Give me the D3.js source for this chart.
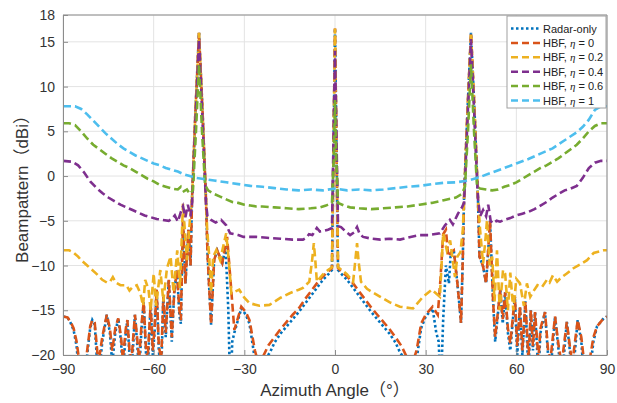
<!DOCTYPE html>
<html>
<head>
<meta charset="utf-8">
<script src="https://cdn.jsdelivr.net/npm/d3@7"></script>
<style>
body { margin: 0; background: #fff; }
text { font-family: "Liberation Sans", Arial, "Noto Sans CJK SC", sans-serif; }
</style>
</head>
<body>
<svg id="chart" width="617" height="403"></svg>
<script>
// ---- data: [azimuth deg, beampattern dBi] ----
const radarOnly = [
  [-90,-15.7],[-88.5,-15.8],[-87.5,-16.4],[-86.5,-17.2],[-85.5,-19],[-84.5,-23],[-83,-24],[-82,-20],[-81,-17],[-80.3,-16.1],
  [-79.5,-16.6],[-78.3,-23],[-77,-18.5],[-75.5,-15.5],[-74.5,-17.5],[-73.7,-21],[-72.7,-17.5],[-71.7,-15.9],[-70.8,-18.5],[-70.2,-22],
  [-69.2,-17.5],[-68.7,-16.1],[-68,-20],[-67.3,-22],[-66.2,-15.5],[-65.5,-18.5],[-64.8,-22],[-64,-17],[-63.3,-14.1],[-62.6,-19.5],
  [-62,-22],[-61,-14.3],[-60.3,-20],[-59.7,-17.5],[-59,-12.7],[-58.3,-19.5],[-57.5,-22],[-56.8,-13.5],[-56,-18],[-55,-11.6],
  [-54,-18.5],[-53.2,-13],[-52.3,-10.5],[-51.5,-15.5],[-51,-16.5],[-50.3,-5],[-49.5,-12],[-48.5,-6],[-47.8,-10],[-47.3,-2.5],
  [-46.2,7],[-45,16],[-43.8,7],[-42.7,-2.5],[-42.2,-8.5],[-41.7,-12],[-41,-16.6],[-40,-9.4],[-39,-8.3],[-37.3,-9.7],
  [-36.2,-8],[-35.3,-15],[-34.6,-25],[-34,-18.5],[-33.3,-17.5],[-31,-14.8],[-29.5,-15.5],[-28.3,-16.5],[-26.5,-20.5],[-25,-23],
  [-23.5,-21],[-22.5,-20.2],[-21.5,-19.7],[-20,-18.6],[-18,-17.6],[-16,-16.8],[-14,-16],[-12,-15.2],[-10,-14.3],[-8,-13.4],
  [-6,-12.5],[-4,-11.6],[-2,-10.9],[-1,-10.5],[-0.5,3],[0,16.5],[0.5,3],[1,-10.5],[2,-10.9],[4,-11.6],
  [6,-12.5],[8,-13.4],[10,-14.3],[12,-15.2],[14,-16],[16,-16.8],[18,-17.6],[20,-18.6],[21.5,-19.7],[22.5,-20.2],
  [24,-22],[25.5,-23],[27,-20.5],[28.5,-17],[30,-15.7],[32.3,-14.8],[33.5,-17.5],[34.3,-18.5],[35,-24],[35.8,-16],
  [36.7,-10],[37.7,-12],[38.3,-8.6],[39.3,-8.3],[40.5,-12],[41.7,-16.4],[42.3,-9],[42.7,-2.5],[43.8,7],[45,16],
  [46.2,7],[47.3,-2.5],[47.8,-9],[49,-10.1],[50,-12],[51.3,-5],[52.3,-13.9],[53,-18.5],[54.7,-12.7],[55.5,-16.5],
  [56.3,-13],[57.2,-17.5],[58,-19.5],[59.5,-13.5],[60.3,-20],[61.2,-14.6],[62,-20],[63,-14],[64,-22],[64.8,-15],
  [65.5,-19.5],[66.2,-15.2],[67.3,-22],[68,-17.5],[69.5,-15.2],[70.5,-20],[71.3,-22],[72.8,-15.7],[74,-19.5],[75,-23],
  [76.7,-16.3],[77.7,-19.5],[78.5,-23],[80.3,-16.1],[81.5,-18.5],[82.5,-23],[84.3,-22],[85.5,-18.5],[86.7,-16.8],[88.9,-15.9],
  [90,-15.7]
];

const hbfEta0 = [
  [-90,-15.7],[-88.5,-15.8],[-87.5,-16.3],[-86.5,-17],[-85.5,-18.5],[-84.5,-21],[-83,-22],[-82,-19.5],[-81,-16.8],[-80.3,-16.1],
  [-79.5,-16.4],[-78.3,-21],[-77,-18],[-75.5,-15.5],[-74.5,-17],[-73.7,-19.5],[-72.7,-17],[-71.7,-15.9],[-70.8,-18],[-70.2,-20.5],
  [-69.2,-17],[-68.7,-16.1],[-68,-19.5],[-67.3,-20.5],[-66.2,-15.5],[-65.5,-18],[-64.8,-20.5],[-64,-16.5],[-63.3,-14.1],[-62.6,-19],
  [-62,-20.5],[-61,-14.3],[-60.3,-19.5],[-59.7,-17],[-59,-12.7],[-58.3,-19],[-57.5,-20.5],[-56.8,-13.5],[-56,-17.5],[-55,-11.6],
  [-54,-18],[-53.2,-13],[-52.3,-10.5],[-51.5,-15],[-51,-16.1],[-50.3,-5],[-49.5,-12],[-48.5,-6],[-47.8,-10],[-47.3,-2.5],
  [-46.2,7],[-45,16],[-43.8,7],[-42.7,-2.5],[-42.2,-8.5],[-41.7,-12],[-41,-16.6],[-40,-9.4],[-39,-8.3],[-37.3,-9.7],
  [-35.7,-6.8],[-34.5,-12],[-33.3,-17.2],[-31,-14.6],[-29.5,-15.2],[-28.3,-16.1],[-26.5,-19.5],[-25.3,-21],[-24,-20.3],[-22,-18.9],
  [-20,-18],[-18,-17.1],[-16,-16.3],[-14,-15.5],[-12,-14.8],[-10,-13.8],[-8,-12.9],[-6,-12],[-4,-11.2],[-2,-10.6],
  [-1,-10.3],[-0.5,3],[0,16.5],[0.5,3],[1,-10.3],[2,-10.6],[4,-11.2],[6,-12],[8,-12.9],[10,-13.8],
  [12,-14.7],[14,-15.5],[16,-16.3],[18,-17.1],[20,-18],[22,-19],[24,-20.4],[25.5,-21],[27,-19.5],[28.5,-16.5],
  [30,-15.5],[32.3,-14.6],[34,-15.5],[34.8,-12],[35.8,-6.5],[36.7,-6],[37.5,-9],[38.3,-8.6],[39.3,-8.3],[40.5,-12],
  [41.7,-16.4],[42.3,-9],[42.7,-2.5],[43.8,7],[45,16],[46.2,7],[47.3,-2.5],[47.8,-9],[49,-10.1],[50,-12],
  [51.3,-5],[52.3,-13.9],[53,-18],[54.7,-12.7],[55.5,-16],[56.3,-13],[57.2,-17],[58,-18.7],[59.5,-13.5],[60.3,-19],
  [61.2,-14.6],[62,-19.5],[63,-14],[64,-20.5],[64.8,-15],[65.5,-19],[66.2,-15.2],[67.3,-20.5],[68,-17],[69.5,-15.2],
  [70.5,-19.5],[71.3,-20.5],[72.8,-15.7],[74,-19],[75,-21],[76.7,-16.3],[77.7,-19],[78.5,-21],[80.3,-16.1],[81.5,-18],
  [82.5,-21],[84.3,-20.5],[85.5,-18],[86.7,-16.8],[88.9,-15.9],[90,-15.7]
];

const hbfEta02 = [
  [-90,-8.3],[-88,-8.3],[-86.7,-8.5],[-85,-9],[-84,-9.4],[-82,-10],[-81,-10.3],[-79,-10.9],[-77,-11.6],[-75.5,-11.9],
  [-74.4,-11.8],[-73.5,-11.3],[-72.5,-11.9],[-71,-12.2],[-69,-12.2],[-68,-12.8],[-67,-12.4],[-65.6,-12.2],[-64.4,-13.1],[-63.5,-14.5],
  [-62.8,-11.6],[-61.7,-12.7],[-61,-15],[-60,-10.9],[-59.2,-14.5],[-57.8,-10.5],[-56.8,-14],[-55.6,-10.3],[-54.4,-9],[-53.4,-13],
  [-52.2,-8.3],[-51.3,-12.5],[-50.3,-3.1],[-49,-9.4],[-48,-4.9],[-47.3,-2.5],[-46.2,7],[-45,16],[-43.8,7],[-42.7,-2.5],
  [-42.3,-6],[-41.7,-8.6],[-41,-13],[-40.3,-9],[-39.3,-8.3],[-38,-9.4],[-36,-6.4],[-35,-10],[-34.3,-13.1],[-31.7,-12.7],
  [-30,-13.6],[-28.3,-14.2],[-25,-14.5],[-21.7,-14.4],[-18,-13.6],[-15,-13.1],[-12,-12.7],[-10.6,-12.5],[-8.5,-11.8],[-7.6,-9.5],
  [-7,-7.5],[-6.5,-9.5],[-6,-11.8],[-4,-11],[-2.3,-10.5],[-1,-10.2],[-0.5,3],[0,16.5],[0.5,3],[1,-10.2],
  [2.3,-10.5],[4,-11],[6,-11.8],[6.7,-9.5],[7.3,-7.5],[7.8,-9.5],[8.6,-11.8],[10.6,-12.6],[12,-12.9],[15,-13.5],
  [18,-14.1],[21.5,-14.6],[25.8,-14.8],[29.1,-13.5],[32,-12.7],[34.7,-13.5],[35.8,-6.4],[37,-8.3],[38.1,-7.2],[39.7,-11.3],
  [40.5,-9],[41.5,-8.5],[42.3,-6],[42.7,-2.5],[43.8,7],[45,16],[46.2,7],[47.3,-2.5],[48,-6],[49,-9.8],
  [49.8,-7],[50.3,-4.9],[51.2,-10],[52,-9],[52.8,-14],[53.6,-8.3],[54.5,-15],[55.6,-10.5],[56.3,-10.9],[57.2,-15],
  [58,-10.8],[59,-15],[60,-11.5],[61.2,-12],[62.5,-14.5],[63.5,-12],[64.6,-13.5],[65.6,-12.9],[67,-12.2],[68.5,-12.4],
  [70.1,-11.6],[71,-11.9],[72.1,-11.1],[73.5,-11.8],[75,-11.3],[76.7,-10.9],[78.9,-10.3],[81,-9.9],[83.4,-9.4],[85.6,-8.6],
  [88.9,-8.3],[90,-8.3]
];

const hbfEta04 = [
  [-90,1.7],[-87,1.6],[-85,1.2],[-83,0.4],[-81,-0.6],[-79,-1.3],[-77,-1.9],[-75,-2.4],[-73,-2.8],[-71,-3.2],
  [-69,-3.5],[-67,-3.8],[-65,-4.1],[-63,-4.4],[-61,-4.6],[-59,-4.8],[-57,-4.9],[-55,-5],[-54,-4.8],[-53,-4.4],
  [-52,-5.1],[-51,-4],[-50.3,-3.4],[-49.5,-4.6],[-48.7,-3.2],[-47.8,-4.5],[-47.3,-3],[-46.2,6],[-45,15.3],[-43.8,6],
  [-42.7,-3],[-42.2,-4.5],[-41,-4.9],[-39.5,-5.2],[-37.7,-4.9],[-36,-5.5],[-34.7,-6.4],[-32,-6.6],[-30.3,-6.8],[-26,-6.8],
  [-22.5,-6.9],[-18,-7],[-14,-7.1],[-10.6,-7.1],[-9.5,-6.9],[-8.6,-6.5],[-7.5,-6.6],[-6,-5.8],[-5,-6.2],[-3.5,-6.1],
  [-2.3,-6],[-1,-5.8],[-0.5,4],[0,14],[0.5,4],[1,-5.6],[2,-5.7],[3.5,-6.2],[5,-6.6],[6.3,-6.3],
  [7.3,-5.7],[8.2,-6.5],[9.3,-6.8],[12,-7],[15,-7.1],[18,-7],[21.5,-7.1],[25,-6.8],[28,-6.6],[31,-6.6],
  [34.7,-6.4],[36.4,-5.5],[38,-4.9],[39,-5.4],[40.7,-4.2],[42,-3.5],[42.7,-3],[43.8,6],[45,15.3],[46.2,6],
  [47.3,-2.5],[48,-4.5],[49,-3.8],[50,-4.5],[50.7,-3.2],[51.5,-5],[52.3,-5.3],[53.5,-5],[54.6,-5.1],[56,-4.9],
  [58,-4.7],[60,-4.4],[62,-4.2],[64,-4],[66,-3.7],[68,-3.3],[70,-2.9],[72,-2.4],[74,-2],[76,-1.6],
  [78,-1.4],[80,-1.1],[82,-0.2],[84,0.9],[86,1.5],[88,1.7],[90,1.7]
];

const hbfEta06 = [
  [-90,5.9],[-88,5.9],[-86,5.7],[-84,5],[-82,4.2],[-80,3.5],[-78,3],[-76,2.5],[-74,2],[-72,1.6],
  [-70,1.2],[-68,0.9],[-66,0.5],[-64,0.1],[-62,-0.3],[-60,-0.6],[-58,-1],[-56,-1.2],[-54,-1.4],[-52,-1.5],
  [-51,-1.2],[-50,-1.7],[-49,-1.5],[-48,-2],[-47,-1.6],[-46,5],[-45,12.5],[-44,5],[-43,-1],[-42,-1.6],
  [-40,-2],[-38,-2.3],[-36,-2.6],[-34,-2.9],[-32,-3],[-30,-3.2],[-28,-3.3],[-26,-3.4],[-24,-3.4],[-20,-3.5],
  [-16,-3.6],[-12,-3.7],[-8,-3.6],[-5,-3.5],[-3,-3.3],[-1,-3],[-0.4,2],[0,8.5],[0.4,2],[1,-3],
  [3,-3.3],[5,-3.5],[8,-3.6],[12,-3.7],[16,-3.6],[20,-3.5],[24,-3.4],[28,-3.2],[32,-3],[36,-2.7],
  [40,-2.4],[42,-2],[43,-1.2],[44,5],[45,12.5],[46,5],[47,-1.2],[48,-1.4],[50,-1.5],[52,-1.6],
  [54,-1.5],[56,-1.2],[58,-1],[60,-0.7],[62,-0.3],[64,0.1],[66,0.5],[68,0.9],[70,1.2],[72,1.6],
  [74,2],[76,2.5],[78,3],[80,3.5],[82,4.2],[84,5],[86,5.6],[88,5.9],[90,5.9]
];

const hbfEta1 = [
  [-90,7.8],[-86,7.8],[-84,7.5],[-82,6.9],[-80,6.2],[-78,5.5],[-76,4.8],[-74,4.2],[-72,3.6],[-70,3.1],
  [-68,2.7],[-66,2.3],[-64,2],[-62,1.7],[-60,1.4],[-58,1.2],[-56,0.9],[-54,0.7],[-52,0.5],[-50,0.2],
  [-48,0],[-46,-0.2],[-44,-0.3],[-42,-0.4],[-40,-0.5],[-36,-0.7],[-32,-0.9],[-28,-1.1],[-24,-1.2],[-20,-1.35],
  [-16,-1.5],[-12,-1.6],[-8,-1.5],[-4,-1.6],[0,-1.4],[4,-1.6],[8,-1.5],[12,-1.6],[16,-1.5],[20,-1.35],
  [24,-1.2],[28,-1.1],[32,-0.9],[36,-0.75],[40,-0.7],[44,-0.5],[48,-0.1],[52,0.4],[56,0.9],[60,1.4],
  [64,1.9],[68,2.5],[72,3.1],[76,4],[80,4.9],[82,5.5],[84,6.3],[86,7.4],[88,7.8],[90,7.8]
];

const seriesNames = ["Radar-only", "HBF, η = 0", "HBF, η = 0.2", "HBF, η = 0.4", "HBF, η = 0.6", "HBF, η = 1"];
const seriesData = [radarOnly, hbfEta0, hbfEta02, hbfEta04, hbfEta06, hbfEta1];
const seriesColors = ["#0072BD", "#D95319", "#EDB120", "#7E2F8E", "#77AC30", "#4DBEEE"];

const xTicks = [-90, -60, -30, 0, 30, 60, 90];
const yTicks = [-20, -15, -10, -5, 0, 5, 10, 15, 18];

// ---- layout ----
const svg = d3.select("#chart");
const plotL = 63, plotR = 607, plotT = 15, plotB = 355;

const x = d3.scaleLinear().domain([-90, 90]).range([plotL, plotR]);
const y = d3.scaleLinear().domain([-20, 18]).range([plotB, plotT]);

// grid
svg.append("g").selectAll("line").data(xTicks).enter().append("line")
  .attr("x1", d => x(d)).attr("x2", d => x(d)).attr("y1", plotT).attr("y2", plotB)
  .attr("stroke", "#e3e3e3").attr("stroke-width", 1);
svg.append("g").selectAll("line").data(yTicks).enter().append("line")
  .attr("x1", plotL).attr("x2", plotR).attr("y1", d => y(d)).attr("y2", d => y(d))
  .attr("stroke", "#e3e3e3").attr("stroke-width", 1);

// curves
svg.append("clipPath").attr("id", "plotclip")
  .append("rect").attr("x", plotL).attr("y", plotT).attr("width", plotR - plotL).attr("height", plotB - plotT);

const line = d3.line().x(d => x(d[0])).y(d => y(d[1]));

const curves = svg.append("g").attr("clip-path", "url(#plotclip)");
seriesData.forEach((data, i) => {
  curves.append("path")
    .attr("d", line(data))
    .attr("fill", "none")
    .attr("stroke", seriesColors[i])
    .attr("stroke-width", 2.6)
    .attr("stroke-dasharray", i === 0 ? "2.5,2.5" : "8,4");
});

// axes (MATLAB style, ticks inward, box on)
const xAxis = svg.append("g").attr("transform", `translate(0,${plotB})`)
  .call(d3.axisBottom(x).tickValues(xTicks).tickSizeInner(-5).tickSizeOuter(0).tickPadding(9));
const yAxis = svg.append("g").attr("transform", `translate(${plotL},0)`)
  .call(d3.axisLeft(y).tickValues(yTicks).tickSizeInner(-5).tickSizeOuter(0).tickPadding(8));

[xAxis, yAxis].forEach(g => {
  g.select(".domain").attr("stroke", "#8c8c8c");
  g.selectAll(".tick line").attr("stroke", "#8c8c8c");
  g.selectAll(".tick text").attr("fill", "#333").style("font-size", "14px");
});

svg.append("line").attr("x1", plotL).attr("x2", plotR).attr("y1", plotT).attr("y2", plotT)
  .attr("stroke", "#8c8c8c");
svg.append("line").attr("x1", plotR).attr("x2", plotR).attr("y1", plotT).attr("y2", plotB)
  .attr("stroke", "#8c8c8c");

// axis labels
svg.append("text")
  .attr("x", (plotL + plotR) / 2).attr("y", 396)
  .attr("text-anchor", "middle").attr("fill", "#333").style("font-size", "17px")
  .text("Azimuth Angle（°）");

svg.append("text")
  .attr("transform", `translate(28,${(plotT + plotB) / 2}) rotate(-90)`)
  .attr("text-anchor", "middle").attr("fill", "#333").style("font-size", "17px")
  .text("Beampattern（dBi）");

// legend
const legend = svg.append("g");
legend.append("rect")
  .attr("x", 507).attr("y", 16).attr("width", 99).attr("height", 92)
  .attr("fill", "#fff").attr("stroke", "#a0a0a0").attr("stroke-width", 1);

seriesNames.forEach((name, i) => {
  const ry = 28.5 + i * 14.4;
  legend.append("line")
    .attr("x1", 511).attr("x2", 540).attr("y1", ry).attr("y2", ry)
    .attr("stroke", seriesColors[i]).attr("stroke-width", 2.5)
    .attr("stroke-dasharray", i === 0 ? "2.5,2.5" : "7,4");
  const t = legend.append("text")
    .attr("x", 543).attr("y", ry + 4)
    .attr("fill", "#222").style("font-size", "11px");
  const parts = name.split("η");
  if (parts.length === 1) {
    t.text(name);
  } else {
    t.append("tspan").text(parts[0]);
    t.append("tspan").style("font-family", "'Liberation Serif', 'DejaVu Serif', serif")
      .style("font-style", "italic").text("η");
    t.append("tspan").text(parts[1]);
  }
});
</script>
</body>
</html>
